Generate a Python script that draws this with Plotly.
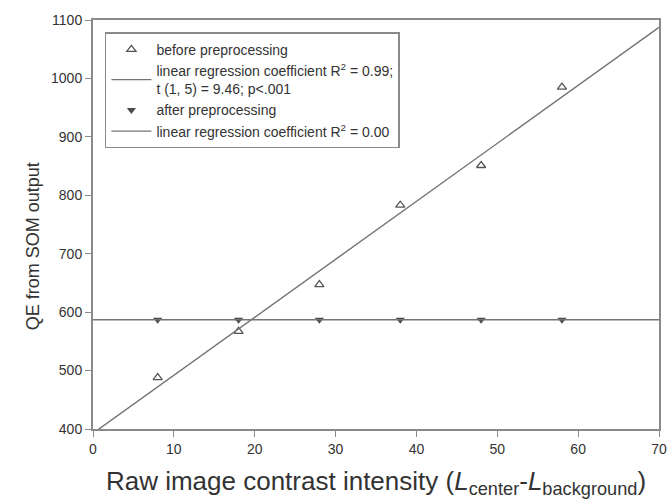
import numpy as np
import plotly.graph_objects as go

contrast = [8, 18, 28, 38, 48, 58]
qe_before = [488, 567, 647, 783, 851, 985]
qe_after = [587, 587, 587, 587, 587, 587]
x_ticks = [0, 10, 20, 30, 40, 50, 60, 70]
y_ticks = [400, 500, 600, 700, 800, 900, 1000, 1100]

# regression lines from the data
xs = np.array([0, 70])
b1, a1 = np.polyfit(contrast, qe_before, 1)
b2, a2 = np.polyfit(contrast, qe_after, 1)

grey = "#747474"
fig = go.Figure()
fig.add_trace(go.Scatter(
    x=contrast, y=qe_before, mode="markers", name="before preprocessing",
    marker=dict(symbol="triangle-up-open", size=8, color="#555555", line=dict(width=1.3, color="#555555"))))
fig.add_trace(go.Scatter(
    x=xs, y=a1 + b1 * xs, mode="lines",
    name="linear regression coefficient R<sup>2</sup> = 0.99;<br>t (1, 5) = 9.46; p&lt;.001",
    line=dict(color=grey, width=1.4)))
fig.add_trace(go.Scatter(
    x=contrast, y=qe_after, mode="markers", name="after preprocessing",
    marker=dict(symbol="triangle-down", size=8, color="#4a4a4a")))
fig.add_trace(go.Scatter(
    x=xs, y=a2 + b2 * xs, mode="lines",
    name="linear regression coefficient R<sup>2</sup> = 0.00",
    line=dict(color=grey, width=1.4)))

axis_common = dict(showline=True, linecolor="#8a8a8a", linewidth=2, mirror=True,
                   ticks="outside", ticklen=6, tickcolor="#8a8a8a", tickwidth=1,
                   showgrid=False, zeroline=False, automargin=False,
                   tickfont=dict(family="Liberation Sans, Arial", size=14, color="#333333"))

fig.update_layout(
    width=669, height=504,
    margin=dict(l=93, r=10, t=20, b=75),
    paper_bgcolor="white", plot_bgcolor="white",
    font=dict(family="Liberation Sans, Arial", color="#333333"),
    xaxis=dict(range=[0, 70], tickvals=x_ticks,
               title=dict(text="Raw image contrast intensity (<i>L</i><sub>center</sub>-<i>L</i><sub>background</sub>)",
                          font=dict(size=26, color="#333333"), standoff=16),
               **axis_common),
    yaxis=dict(range=[400, 1100], tickvals=y_ticks, **axis_common),
    legend=dict(x=0.021, y=0.97, xanchor="left", yanchor="top",
                bgcolor="white", bordercolor="#8a8a8a", borderwidth=1.5,
                font=dict(size=14, color="#333333"), tracegroupgap=0,
                itemwidth=40),
    showlegend=True,
    annotations=[dict(text="QE from SOM output", xref="paper", yref="paper",
                      x=-0.106, y=0.447, xanchor="center", yanchor="middle",
                      textangle=-90, showarrow=False,
                      font=dict(size=18, color="#333333"))],
)

fig.write_html("out.html", config={"displayModeBar": False},
               post_script="document.body.style.margin='0';document.body.style.overflow='hidden';")
